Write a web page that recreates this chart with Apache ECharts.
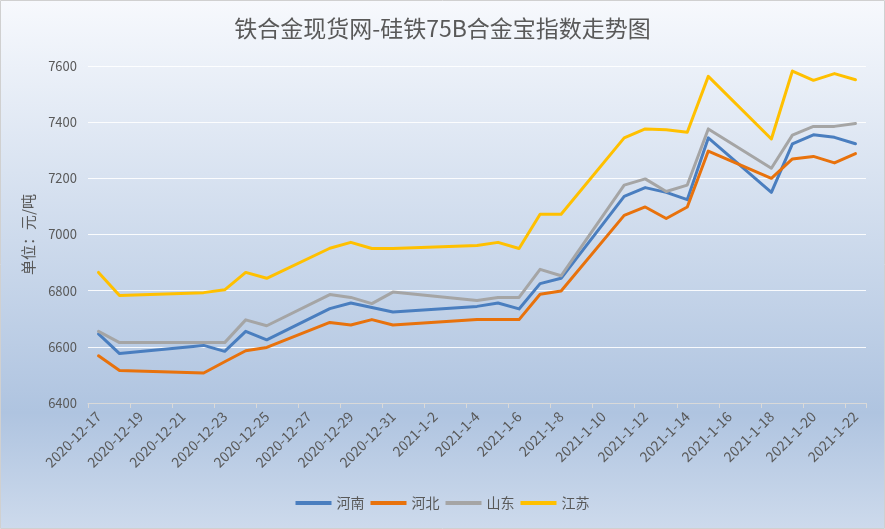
<!DOCTYPE html>
<html>
<head>
<meta charset="utf-8">
<script src="https://cdn.jsdelivr.net/npm/echarts@6/dist/echarts.min.js"></script>
<style>html,body{margin:0;padding:0;background:#fff;}#c{width:885px;height:529px;}</style>
</head>
<body>
<div id="c"></div>
<script>
var titleText = '铁合金现货网-硅铁75B合金宝指数走势图';
var yAxisName = '单位：元/吨';
var categories = ['2020-12-17','2020-12-18','2020-12-19','2020-12-20','2020-12-21','2020-12-22','2020-12-23','2020-12-24','2020-12-25','2020-12-26','2020-12-27','2020-12-28','2020-12-29','2020-12-30','2020-12-31','2021-1-1','2021-1-2','2021-1-3','2021-1-4','2021-1-5','2021-1-6','2021-1-7','2021-1-8','2021-1-9','2021-1-10','2021-1-11','2021-1-12','2021-1-13','2021-1-14','2021-1-15','2021-1-16','2021-1-17','2021-1-18','2021-1-19','2021-1-20','2021-1-21','2021-1-22'];
var seriesNames = ['河南','河北','山东','江苏'];
var henan =    [6646,6576,null,null,null,6605,6584,6655,6625,null,null,6736,6756,6740,6724,null,null,null,6744,6756,6735,6825,6844,null,null,7136,7167,7150,7124,7344,null,null,7150,7323,7355,7346,7323];
var hebei =    [6568,6516,null,null,null,6507,6547,6586,6598,null,null,6687,6678,6697,6678,null,null,null,6697,6697,6697,6787,6799,null,null,7068,7098,7057,7098,7297,null,null,7200,7269,7278,7255,7288];
var shandong = [6655,6615,null,null,null,6615,6615,6696,6675,null,null,6786,6776,6754,6795,null,null,null,6765,6776,6776,6876,6853,null,null,7176,7198,7153,7176,7376,null,null,7236,7354,7385,7385,7395];
var jiangsu =  [6865,6783,null,null,null,6793,6803,6865,6844,null,null,6951,6972,6950,6950,null,null,null,6961,6972,6950,7072,7072,null,null,7344,7376,7373,7364,7563,null,null,7340,7582,7549,7573,7551];
var colors = ['#4A7EBF','#E8720C','#A5A5A5','#FFC000'];
var yMin = 6400, yMax = 7600, yInterval = 200;

var font = '"Noto Sans CJK SC", "Microsoft YaHei", sans-serif';
var chart = echarts.init(document.getElementById('c'));
var dataSets = [henan, hebei, shandong, jiangsu];
chart.setOption({
  animation: false,
  color: colors,
  graphic: [{
    type: 'rect', z: -10, silent: true,
    shape: {x: 0.5, y: 0.5, width: 884, height: 528},
    style: {
      fill: new echarts.graphic.LinearGradient(0, 0, 0, 1, [
        {offset: 0, color: '#f7f9fd'},
        {offset: 0.78, color: '#afc4e0'},
        {offset: 1, color: '#cddaec'}
      ]),
      stroke: '#d0d0d0', lineWidth: 1
    }
  }],
  title: {
    text: titleText, left: 'center', top: 12,
    textStyle: {fontFamily: font, fontSize: 23, fontWeight: 'normal', color: '#595959'}
  },
  legend: {
    data: seriesNames, bottom: 14, left: 'center',
    itemWidth: 36, itemHeight: 4, itemGap: 6, icon: 'rect',
    textStyle: {fontFamily: font, fontSize: 14, color: '#595959'}
  },
  grid: {left: 88, right: 19, top: 66, bottom: 126, containLabel: false},
  xAxis: {
    type: 'category', data: categories, boundaryGap: true,
    axisLine: {lineStyle: {color: '#d9d9d9', width: 1}},
    axisTick: {show: true, interval: 1, length: 5, lineStyle: {color: '#d9d9d9'}},
    axisLabel: {interval: 1, rotate: 45, margin: 11, fontFamily: font, fontSize: 14, color: '#595959'},
    splitLine: {show: false}
  },
  yAxis: {
    type: 'value', min: yMin, max: yMax, interval: yInterval,
    name: yAxisName, nameLocation: 'middle', nameGap: 52, nameRotate: 90,
    nameTextStyle: {fontFamily: font, fontSize: 15, color: '#595959'},
    axisLine: {show: false}, axisTick: {show: false},
    axisLabel: {margin: 11, fontFamily: font, fontSize: 13, color: '#595959', formatter: function (v) { return String(v); }},
    splitLine: {lineStyle: {color: 'rgba(255,255,255,0.9)', width: 1}}
  },
  series: seriesNames.map(function (n, i) {
    return {
      name: n, type: 'line', data: dataSets[i], connectNulls: true,
      showSymbol: false, symbol: 'none', smooth: false,
      lineStyle: {width: 3, color: colors[i], join: 'round', cap: 'round'},
      itemStyle: {color: colors[i]}
    };
  })
});
</script>
</body>
</html>
